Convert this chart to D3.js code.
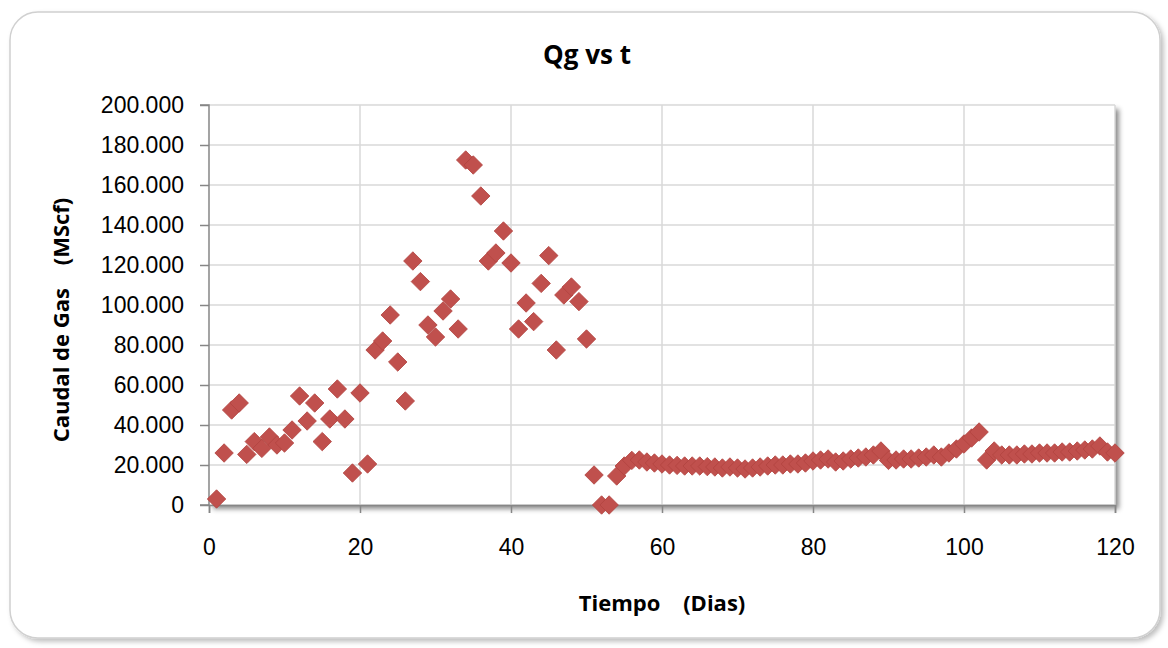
<!DOCTYPE html>
<html>
<head>
<meta charset="utf-8">
<script src="https://cdn.jsdelivr.net/npm/d3@7"></script>
<style>
  html, body { margin: 0; padding: 0; background: #fff; }
  svg { display: block; font-family: "Open Sans", "Noto Sans", sans-serif; }
  .tick-label { font-size: 23px; fill: #000; }
  .axis-title { font-size: 22px; font-weight: bold; fill: #000; }
  .chart-title { font-size: 26px; font-weight: bold; fill: #000; }
</style>
</head>
<body>
<div id="chart"></div>
<script>
// Qg vs t -- daily gas rate (Mscf) against time (days), Excel-style scatter.

const days = [
  1, 2, 3, 4, 5, 6, 7, 8, 9, 10, 11, 12, 13, 14, 15, 16, 17, 18, 19, 20,
  21, 22, 23, 24, 25, 26, 27, 28, 29, 30, 31, 32, 33, 34, 35, 36, 37, 38, 39, 40,
  41, 42, 43, 44, 45, 46, 47, 48, 49, 50, 51, 52, 53, 54, 55, 56, 57, 58, 59, 60,
  61, 62, 63, 64, 65, 66, 67, 68, 69, 70, 71, 72, 73, 74, 75, 76, 77, 78, 79, 80,
  81, 82, 83, 84, 85, 86, 87, 88, 89, 90, 91, 92, 93, 94, 95, 96, 97, 98, 99, 100,
  101, 102, 103, 104, 105, 106, 107, 108, 109, 110, 111, 112, 113, 114, 115, 116, 117, 118, 119, 120
];

const qg = [
  3000, 26000, 47500, 51000, 25300, 31700, 28300, 34000, 30000, 31000,
  37500, 54500, 42000, 51000, 31700, 43000, 58000, 43000, 16000, 56000,
  20500, 77500, 82000, 95000, 71500, 52000, 122000, 111700, 90000, 84000,
  97000, 103000, 88000, 172500, 170000, 154500, 122000, 126000, 137000, 121000,
  88000, 101000, 91700, 110800, 124700, 77500, 105000, 109000, 101700, 83000,
  15000, 0, 0, 14500, 19500, 22300, 22500, 21500, 21000, 20500,
  20000, 19800, 19500, 19500, 19500, 19200, 19000, 18500, 19000, 18500,
  18000, 18500, 19000, 19500, 20000, 20000, 20500, 20500, 21000, 22000,
  22500, 23000, 21500, 22000, 23000, 23500, 24000, 25000, 27000, 22300,
  22500, 23000, 23000, 23500, 24000, 25000, 24000, 26000, 28000, 30500,
  33500, 36500, 22500, 27000, 25000, 25000, 25000, 25500, 25500, 26000,
  26000, 26000, 26500, 26500, 27000, 27500, 28000, 29500, 26500, 26000
];

const xTicks = [0, 20, 40, 60, 80, 100, 120];
const yTicks = [0, 20000, 40000, 60000, 80000, 100000, 120000, 140000, 160000, 180000, 200000];

const titleText = "Qg vs t";
const xTitle = "Tiempo\u00a0\u00a0\u00a0\u00a0(Dias)";
const yTitle = "Caudal de Gas\u00a0\u00a0\u00a0\u00a0(MScf)";

const MARKER = "#c0504d";
const GRID = "#d9d9d9";
const AXIS = "#868686";

const W = 1168, H = 648;
const plot = { left: 209, right: 1115, top: 105, bottom: 505 };

// Spanish-style number format: "200.000"
const es = d3.formatLocale({ decimal: ",", thousands: ".", grouping: [3], currency: ["", ""] });
const fmtY = es.format(",d");

const svg = d3.select("#chart").append("svg")
  .attr("width", W).attr("height", H).attr("viewBox", `0 0 ${W} ${H}`);

const defs = svg.append("defs");
const frameShadow = defs.append("filter").attr("id", "frameShadow")
  .attr("x", "-5%").attr("y", "-5%").attr("width", "110%").attr("height", "110%");
frameShadow.append("feDropShadow").attr("dx", 3).attr("dy", 3).attr("stdDeviation", 2.5)
  .attr("flood-color", "#000").attr("flood-opacity", 0.25);
const plotShadow = defs.append("filter").attr("id", "plotShadow")
  .attr("x", "-5%").attr("y", "-5%").attr("width", "110%").attr("height", "115%");
plotShadow.append("feDropShadow").attr("dx", 4).attr("dy", 4).attr("stdDeviation", 2.5)
  .attr("flood-color", "#000").attr("flood-opacity", 0.45);

// outer chart frame
svg.append("rect")
  .attr("x", 10).attr("y", 12).attr("width", 1150).attr("height", 626)
  .attr("rx", 28).attr("ry", 28)
  .attr("fill", "#fff").attr("stroke", "#d0d0d0").attr("stroke-width", 1.5)
  .attr("filter", "url(#frameShadow)");

const x = d3.scaleLinear([0, 120], [plot.left, plot.right]);
const y = d3.scaleLinear([0, 200000], [plot.bottom, plot.top]);

// plot area with shadow
svg.append("rect")
  .attr("x", plot.left).attr("y", plot.top)
  .attr("width", plot.right - plot.left).attr("height", plot.bottom - plot.top)
  .attr("fill", "#fff").attr("filter", "url(#plotShadow)");

// gridlines
const grid = svg.append("g");
grid.selectAll("line.h").data(yTicks).join("line").attr("class", "h")
  .attr("x1", plot.left).attr("x2", plot.right)
  .attr("y1", (d) => y(d)).attr("y2", (d) => y(d))
  .attr("stroke", GRID).attr("stroke-width", 1.5);
grid.selectAll("line.v").data(xTicks.slice(1)).join("line").attr("class", "v")
  .attr("x1", (d) => x(d)).attr("x2", (d) => x(d))
  .attr("y1", plot.top).attr("y2", plot.bottom)
  .attr("stroke", GRID).attr("stroke-width", 1.5);

// axes
const yAxis = svg.append("g").attr("transform", `translate(${plot.left},0)`)
  .call(d3.axisLeft(y).tickValues(yTicks).tickFormat(fmtY).tickSize(9).tickPadding(16));
const xAxis = svg.append("g").attr("transform", `translate(0,${plot.bottom})`)
  .call(d3.axisBottom(x).tickValues(xTicks).tickSize(8).tickPadding(26));
for (const ax of [yAxis, xAxis]) {
  ax.select(".domain").attr("stroke", AXIS).attr("stroke-width", 1.5);
  ax.selectAll(".tick line").attr("stroke", AXIS).attr("stroke-width", 1.5);
  ax.selectAll(".tick text").attr("class", "tick-label").attr("font-family", null).attr("font-size", null);
}
yAxis.select(".domain").attr("d", `M-9,${plot.bottom}H0V${plot.top}H-9`);

// markers: diamonds (rotated squares)
const diamond = d3.symbol(d3.symbolSquare, 170);
svg.append("g").selectAll("path").data(days).join("path")
  .attr("d", diamond)
  .attr("transform", (d, i) => `translate(${x(d)},${y(qg[i])}) rotate(45)`)
  .attr("fill", MARKER)
  .attr("stroke", "#b24541").attr("stroke-width", 0.8);

// titles
svg.append("text").attr("class", "chart-title").attr("text-anchor", "middle")
  .attr("x", 587).attr("y", 64).text(titleText);
svg.append("text").attr("class", "axis-title").attr("text-anchor", "middle")
  .attr("x", (plot.left + plot.right) / 2).attr("y", 611).text(xTitle);
svg.append("text").attr("class", "axis-title").attr("text-anchor", "middle")
  .attr("transform", `translate(69,320) rotate(-90)`).text(yTitle);
</script>
</body>
</html>
